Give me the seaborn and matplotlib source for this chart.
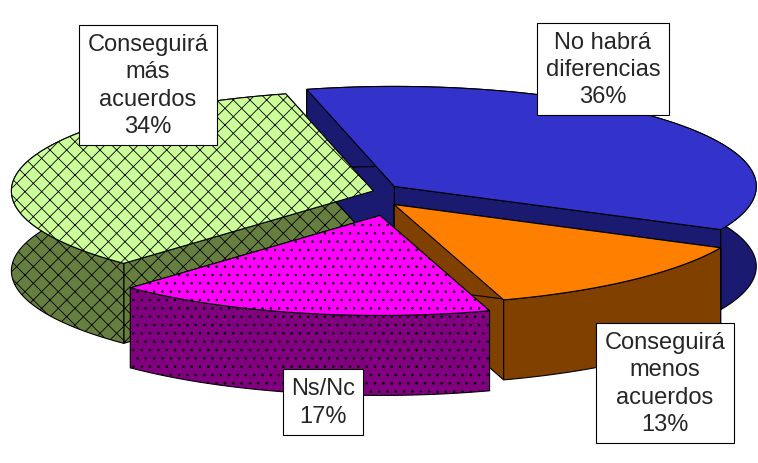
import numpy as np
import matplotlib.pyplot as plt
import seaborn as sns
from matplotlib.patches import Polygon

sns.set_style("white")
plt.rcParams['font.family'] = ['Liberation Sans', 'DejaVu Sans']
plt.rcParams['hatch.linewidth'] = 0.6

labels = ["No habrá\ndiferencias\n36%", "Conseguirá\nmenos\nacuerdos\n13%", "Ns/Nc\n17%", "Conseguirá\nmás\nacuerdos\n34%"]
values = [36, 13, 17, 34]
top_colors = ["#3333cc", "#ff8000", "#ff00ff", "#ccff99"]
side_colors = ["#1a1a70", "#804000", "#800080", "#667f40"]
hatches = [None, None, "..", "xx"]
label_pos = [(603, 70), (665, 384), (323, 403), (148, 86)]

cx, cy, rx, ry, depth = 385, 195, 362, 100, 80
start = 104
explode = [12, 14, 22, 12]

fig = plt.figure(figsize=(7.58, 4.64), dpi=100)
ax = fig.add_axes([0, 0, 1, 1])
ax.set_xlim(0, 758)
ax.set_ylim(464, 0)
ax.axis("off")

def pt(t, ox, oy, dz=0):
    r = np.radians(t)
    return (cx + ox + rx * np.cos(r), cy + oy - ry * np.sin(r) + dz)

slices = []
a = start
for v, e in zip(values, explode):
    span = v / 100 * 360
    a0, a1 = a - span, a
    mid = np.radians((a0 + a1) / 2)
    ox, oy = e * np.cos(mid), -e * np.sin(mid)
    slices.append((a0, a1, ox, oy))
    a = a0

order = [3, 0, 1, 2]
# side faces first, then the tops over them
for i in order:
    a0, a1, ox, oy = slices[i]
    ts = np.linspace(a0, a1, 80)
    centre = (cx + ox, cy + oy)
    kw = dict(edgecolor="black", lw=0.8, hatch=hatches[i])
    for t in (a0, a1):
        p = pt(t, ox, oy)
        ax.add_patch(Polygon([centre, p, (p[0], p[1] + depth), (centre[0], centre[1] + depth)],
                             facecolor=side_colors[i], **kw))
    top = [pt(t, ox, oy) for t in ts]
    bot = [pt(t, ox, oy, depth) for t in ts[::-1]]
    ax.add_patch(Polygon(top + bot, facecolor=side_colors[i], **kw))

for i in order:
    a0, a1, ox, oy = slices[i]
    ts = np.linspace(a0, a1, 80)
    centre = (cx + ox, cy + oy)
    top = [pt(t, ox, oy) for t in ts]
    ax.add_patch(Polygon([centre] + top, facecolor=top_colors[i], edgecolor="black",
                         lw=0.8, hatch=hatches[i]))

for lab, (x, y) in zip(labels, label_pos):
    ax.text(x, y, lab, ha="center", va="center", fontsize=17, linespacing=1.3,
            bbox=dict(boxstyle="square,pad=0.35", facecolor="white", edgecolor="black", lw=0.8))

fig.savefig("out.png", dpi=100)
